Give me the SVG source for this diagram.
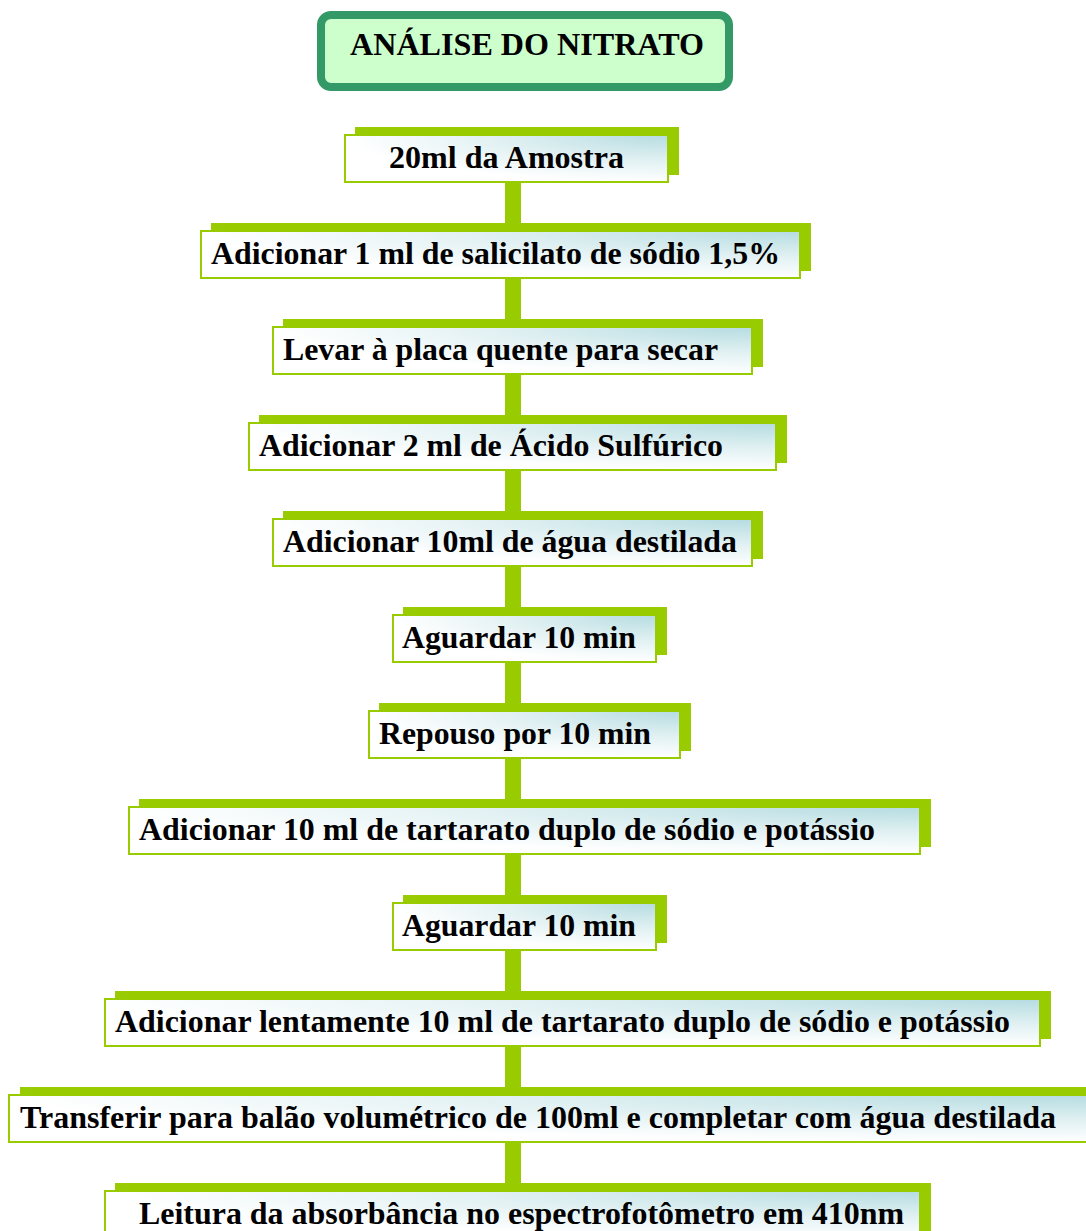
<svg xmlns="http://www.w3.org/2000/svg" width="1086" height="1231" viewBox="0 0 1086 1231">
<defs>
<radialGradient id="g" cx="1" cy="0" r="1">
<stop offset="0" stop-color="#b5dce1"/>
<stop offset="0.55" stop-color="#e2f1f3"/>
<stop offset="1" stop-color="#ffffff"/>
</radialGradient>
<style>
.sh{fill:#99cc00}
.fr{fill:url(#g);stroke:#99cc00;stroke-width:2}
.t{font-weight:bold;font-size:31px;fill:#000}
.c{stroke:#99cc00;stroke-width:16;fill:none}
</style>
</defs>
<rect width="1086" height="1231" fill="#ffffff"/>
<g id="title">
<rect x="321" y="15" width="408" height="72" rx="10" fill="#ccffcc" stroke="#339966" stroke-width="8"/>
<text class="t" font-family="Liberation Serif, serif" x="350" y="55" textLength="354" lengthAdjust="spacingAndGlyphs" style="font-size:32px">ANÁLISE DO NITRATO</text>
</g>
<g id="connectors">
<line class="c" x1="513" y1="180" x2="513" y2="230"/>
<line class="c" x1="513" y1="276" x2="513" y2="326"/>
<line class="c" x1="513" y1="372" x2="513" y2="422"/>
<line class="c" x1="513" y1="468" x2="513" y2="518"/>
<line class="c" x1="513" y1="564" x2="513" y2="614"/>
<line class="c" x1="513" y1="660" x2="513" y2="710"/>
<line class="c" x1="513" y1="756" x2="513" y2="806"/>
<line class="c" x1="513" y1="852" x2="513" y2="902"/>
<line class="c" x1="513" y1="948" x2="513" y2="998"/>
<line class="c" x1="513" y1="1044" x2="513" y2="1094"/>
<line class="c" x1="513" y1="1140" x2="513" y2="1190"/>
</g>
<g id="nodes" font-family="Liberation Serif, serif">
<g id="n1">
<rect class="sh" x="355" y="127" width="324" height="48"/>
<rect class="fr" x="345" y="135" width="323" height="47"/>
<text class="t" x="389" y="168" textLength="235" lengthAdjust="spacingAndGlyphs">20ml da Amostra</text>
</g>
<g id="n2">
<rect class="sh" x="211" y="223" width="600" height="48"/>
<rect class="fr" x="201" y="231" width="599" height="47"/>
<text class="t" x="211" y="264" textLength="569" lengthAdjust="spacingAndGlyphs">Adicionar 1 ml de salicilato de sódio 1,5%</text>
</g>
<g id="n3">
<rect class="sh" x="283" y="319" width="480" height="48"/>
<rect class="fr" x="273" y="327" width="479" height="47"/>
<text class="t" x="283" y="360" textLength="435" lengthAdjust="spacingAndGlyphs">Levar à placa quente para secar</text>
</g>
<g id="n4">
<rect class="sh" x="259" y="415" width="528" height="48"/>
<rect class="fr" x="249" y="423" width="527" height="47"/>
<text class="t" x="259" y="456" textLength="464" lengthAdjust="spacingAndGlyphs">Adicionar 2 ml de Ácido Sulfúrico</text>
</g>
<g id="n5">
<rect class="sh" x="283" y="511" width="480" height="48"/>
<rect class="fr" x="273" y="519" width="479" height="47"/>
<text class="t" x="283" y="552" textLength="454" lengthAdjust="spacingAndGlyphs">Adicionar 10ml de água destilada</text>
</g>
<g id="n6">
<rect class="sh" x="403" y="607" width="264" height="48"/>
<rect class="fr" x="393" y="615" width="263" height="47"/>
<text class="t" x="402" y="648" textLength="234" lengthAdjust="spacingAndGlyphs">Aguardar 10 min</text>
</g>
<g id="n7">
<rect class="sh" x="379" y="703" width="312" height="48"/>
<rect class="fr" x="369" y="711" width="311" height="47"/>
<text class="t" x="379" y="744" textLength="272" lengthAdjust="spacingAndGlyphs">Repouso por 10 min</text>
</g>
<g id="n8">
<rect class="sh" x="139" y="799" width="792" height="48"/>
<rect class="fr" x="129" y="807" width="791" height="47"/>
<text class="t" x="139" y="840" textLength="736" lengthAdjust="spacingAndGlyphs">Adicionar 10 ml de tartarato duplo de sódio e potássio</text>
</g>
<g id="n9">
<rect class="sh" x="403" y="895" width="264" height="48"/>
<rect class="fr" x="393" y="903" width="263" height="47"/>
<text class="t" x="402" y="936" textLength="234" lengthAdjust="spacingAndGlyphs">Aguardar 10 min</text>
</g>
<g id="n10">
<rect class="sh" x="115" y="991" width="936" height="48"/>
<rect class="fr" x="105" y="999" width="935" height="47"/>
<text class="t" x="115" y="1032" textLength="895" lengthAdjust="spacingAndGlyphs">Adicionar lentamente 10 ml de tartarato duplo de sódio e potássio</text>
</g>
<g id="n11">
<rect class="sh" x="20" y="1087" width="1080" height="48"/>
<rect class="fr" x="9" y="1095" width="1090" height="47"/>
<text class="t" x="20" y="1128" textLength="1036" lengthAdjust="spacingAndGlyphs">Transferir para balão volumétrico de 100ml e completar com água destilada</text>
</g>
<g id="n12">
<rect class="sh" x="115" y="1183" width="816" height="48"/>
<rect class="fr" x="105" y="1191" width="815" height="47"/>
<text class="t" x="139" y="1224" textLength="765" lengthAdjust="spacingAndGlyphs">Leitura da absorbância no espectrofotômetro em 410nm</text>
</g>
</g>
</svg>
